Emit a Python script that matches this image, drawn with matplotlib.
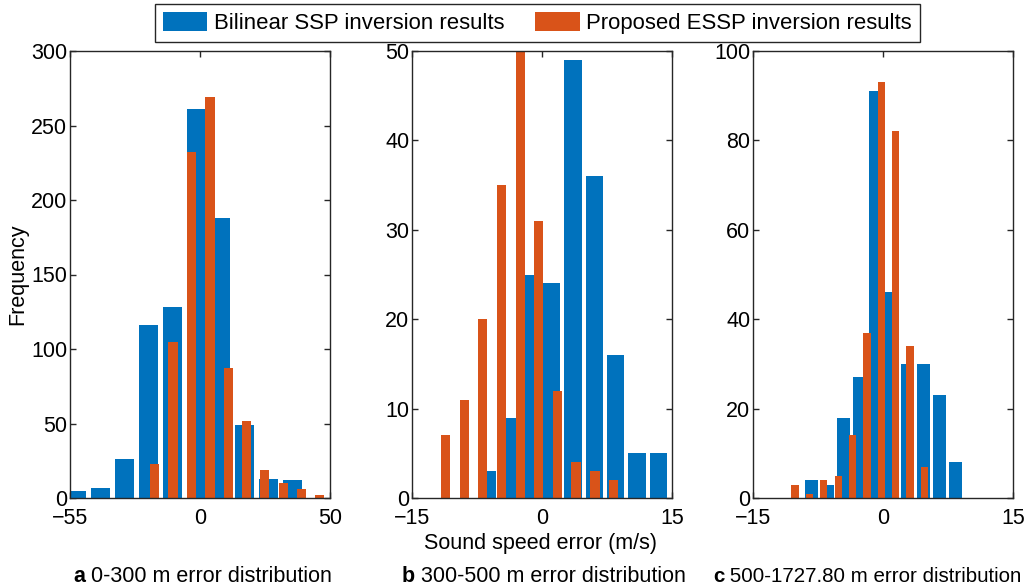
import matplotlib
matplotlib.use("Agg")
import matplotlib.pyplot as plt
from matplotlib.patches import Patch

plt.rcParams['font.family'] = ['Liberation Sans', 'DejaVu Sans']

BLUE = '#0072BD'
ORANGE = '#D95319'
FS = 15.5

# ---- data (bin centres in m/s, counts) ----
# panel a: 0-300 m
a_blue_x = [-52.3, -42.1, -32.0, -21.8, -11.6, -1.5, 8.7, 18.8, 29.0, 39.1, 49.3]
a_blue_n = [5, 7, 26, 116, 128, 261, 188, 49, 13, 12, 0]
a_or_x = [-19.2, -11.4, -3.6, 4.2, 12.0, 19.7, 27.4, 35.2, 43.0, 50.7]
a_or_n = [23, 105, 232, 269, 87, 52, 19, 10, 6, 2]

# panel b: 300-500 m
b_blue_x = [-6.27, -3.81, -1.35, 1.12, 3.58, 6.04, 8.50, 10.96, 13.42]
b_blue_n = [3, 9, 25, 24, 49, 36, 16, 5, 5]
b_or_x = [-11.13, -8.98, -6.83, -4.67, -2.52, -0.37, 1.79, 3.94, 6.10, 8.25]
b_or_n = [7, 11, 20, 35, 50, 31, 12, 4, 3, 2]

# panel c: 500-1727.80 m
c_blue_x = [-8.23, -6.38, -4.54, -2.69, -0.85, 1.00, 2.85, 4.69, 6.54, 8.38]
c_blue_n = [4, 3, 18, 27, 91, 46, 30, 30, 23, 8]
c_or_x = [-10.15, -8.50, -6.85, -5.17, -3.50, -1.85, -0.19, 1.46, 3.12, 4.77]
c_or_n = [3, 1, 4, 5, 14, 37, 93, 82, 34, 7]

xlims = [(-55, 55), (-15, 15), (-15, 15)]
xtick_pos = [[-55, 0, 55], [-15, 0, 15], [-15, 0, 15]]
xtick_lab = [['\u221255', '0', '50'], ['\u221215', '0', '15'], ['\u221215', '0', '15']]
ylims = [300, 50, 100]
ysteps = [50, 10, 20]
captions = [('a', ' 0-300 m error distribution'),
            ('b', ' 300-500 m error distribution'),
            ('c', ' 500-1727.80 m error distribution')]

panels = [(a_blue_x, a_blue_n, a_or_x, a_or_n),
          (b_blue_x, b_blue_n, b_or_x, b_or_n),
          (c_blue_x, c_blue_n, c_or_x, c_or_n)]

fig = plt.figure(figsize=(10.27, 5.88), dpi=100)
W, H = 1027.0, 588.0
lefts = [70, 412, 753]
axw = 260
top, bot = 51, 498

for i, (bx, bn, ox, on) in enumerate(panels):
    ax = fig.add_axes([lefts[i] / W, 1 - bot / H, axw / W, (bot - top) / H])
    bw = 0.8 * (bx[1] - bx[0])
    ow = 0.5 * (ox[1] - ox[0])
    ax.bar(bx, bn, width=bw, color=BLUE, linewidth=0, zorder=2)
    ax.bar(ox, on, width=ow, color=ORANGE, linewidth=0, zorder=3)
    ax.set_xlim(*xlims[i])
    ax.set_ylim(0, ylims[i])
    ax.set_xticks(xtick_pos[i])
    ax.set_xticklabels(xtick_lab[i])
    ax.set_yticks(range(0, ylims[i] + 1, ysteps[i]))
    ax.tick_params(direction='in', top=True, right=True, length=4, width=1,
                   labelsize=FS, color='#262626')
    ax.tick_params(axis='x', pad=7)
    ax.tick_params(axis='y', pad=2)
    for s in ax.spines.values():
        s.set_color('#262626')
        s.set_linewidth(1.0)
        s.set_zorder(5)
    if i == 0:
        ax.set_ylabel('Frequency', fontsize=FS, labelpad=2)

fig.text(540 / W, 1 - 543 / H, 'Sound speed error (m/s)', fontsize=FS,
         ha='center', va='center')

cap_x = [73, 402, 713]
cap_fs = [FS, FS, 14.8]
for (lt, rest), x, fs in zip(captions, cap_x, cap_fs):
    t = fig.text(x / W, 1 - 576 / H, lt, fontsize=fs, fontweight='bold',
                 ha='left', va='center')
    fig.canvas.draw()
    bb = t.get_window_extent()
    fig.text(bb.x1 / W, 1 - 576 / H, rest, fontsize=fs, ha='left', va='center')

handles = [Patch(facecolor=BLUE, edgecolor='none', label='Bilinear SSP inversion results'),
           Patch(facecolor=ORANGE, edgecolor='none', label='Proposed ESSP inversion results')]
leg = fig.legend(handles=handles, loc='upper center', bbox_to_anchor=(537.5 / W, 1 - 4 / H),
                 ncol=2, fontsize=15.9, frameon=True, fancybox=False, framealpha=1,
                 edgecolor='#262626', handlelength=2.0, handleheight=1.0,
                 handletextpad=0.3, columnspacing=1.4, borderpad=0.35,
                 borderaxespad=0)
leg.get_frame().set_linewidth(1.0)

fig.savefig('out.png', dpi=100)
